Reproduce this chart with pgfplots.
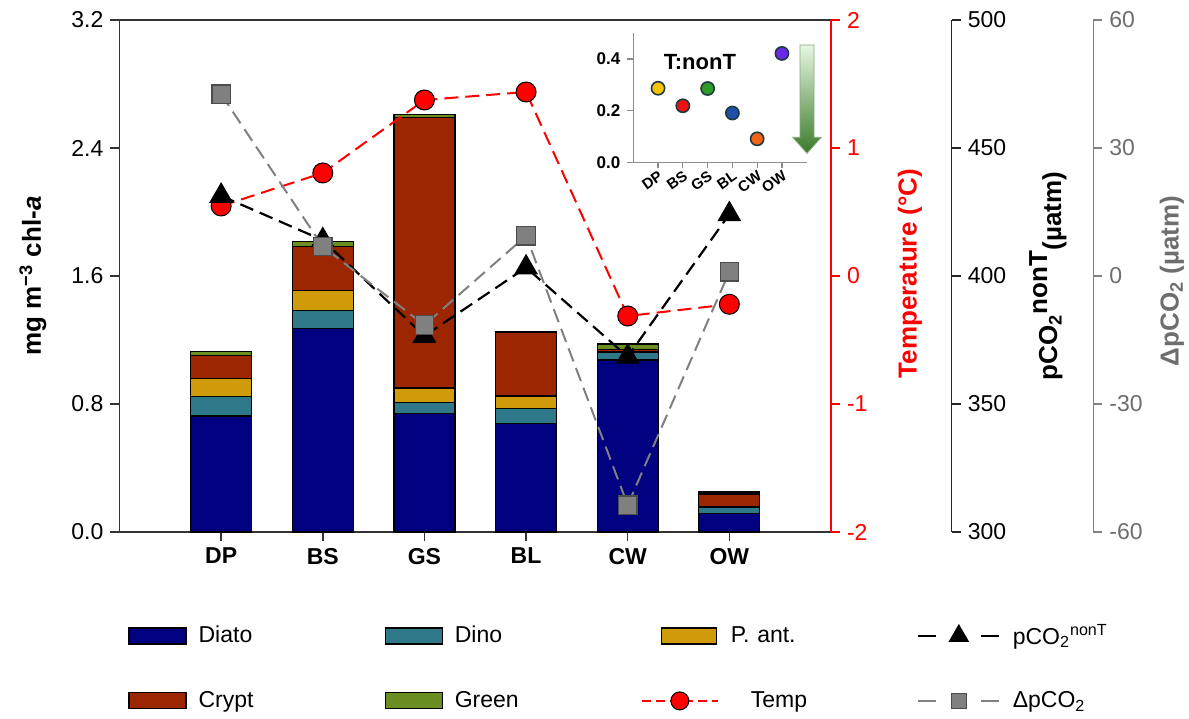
\documentclass[border=0pt]{standalone}
\usepackage{fontspec}
\setmainfont{Liberation Sans}
\usepackage{pgfplots}
\pgfplotsset{compat=1.18}
\usetikzlibrary{shadings}

\definecolor{cDiato}{HTML}{000080}
\definecolor{cDino}{HTML}{2E788A}
\definecolor{cPant}{HTML}{CF9B0A}
\definecolor{cCrypt}{HTML}{9C2600}
\definecolor{cGreen}{HTML}{6B8E23}
\definecolor{cGray}{HTML}{808080}
\definecolor{cGrayTxt}{HTML}{6E6E6E}
\definecolor{cRed}{HTML}{FF0000}
\definecolor{iDP}{HTML}{F5C400}
\definecolor{iBS}{HTML}{F01010}
\definecolor{iGS}{HTML}{2E9A28}
\definecolor{iBL}{HTML}{1F50A8}
\definecolor{iCW}{HTML}{F06418}
\definecolor{iOW}{HTML}{6A28E8}
\definecolor{iEdge}{HTML}{1F3A3F}
\definecolor{arrTop}{HTML}{E6F7E0}
\definecolor{arrMid}{HTML}{96D67F}
\definecolor{arrBot}{HTML}{3A7A2A}
\definecolor{arrEdge}{HTML}{8AA880}

\newcommand{\tickfont}{\fontsize{11.5}{13}\selectfont}
\newcommand{\labfont}{\fontsize{13}{15}\selectfont\bfseries}

\pgfplotsset{
  base/.style={scale only axis, width=355.75pt, height=256pt, xmin=-1, xmax=6,
    /pgf/number format/assume math mode=true,
    tick align=outside, major tick length=4.5pt,
    tick label style={font=\tickfont}},
  swatch/.style={legend image code/.code={\draw[##1, draw=black, line width=0.6pt] (0pt,-4pt) rectangle (28.5pt,4pt);}},
  swatchC/.style={legend image code/.code={\draw[##1, draw=black, line width=0.6pt] (10pt,-4pt) rectangle (37.5pt,4pt);}},
  lineA/.style={legend image code/.code={\draw[##1, mark repeat=2, mark phase=2] plot coordinates {(0pt,0pt) (20.5pt,0pt) (41pt,0pt)};}},
  lineB/.style={legend image code/.code={\draw[##1, mark repeat=2, mark phase=2] plot coordinates {(0pt,0pt) (19pt,0pt) (38pt,0pt)};}},
}

\begin{document}
\begin{tikzpicture}

% ---------------- main stacked bars ----------------
\begin{axis}[base, ymin=0, ymax=3.2, ybar stacked, bar width=0.6,
  axis line style={black!80, line width=0.75pt},
  tick style={black!80, line width=0.75pt},
  xtick={0,...,5}, xticklabels={DP,BS,GS,BL,CW,OW},
  xticklabel style={font=\fontsize{11.5}{13}\selectfont\bfseries},
  xtick pos=left, ytick pos=left,
  ytick={0,0.8,1.6,2.4,3.2},
  yticklabel style={/pgf/number format/fixed, /pgf/number format/fixed zerofill, /pgf/number format/precision=1},
  ylabel={mg m\textsuperscript{−3} chl-\textit{a}},
  ylabel style={font=\labfont, at={(axis description cs:-0.1216,0.5)}, anchor=center},
]
\addplot[fill=cDiato, draw=black, line width=0.6pt] coordinates {(0,0.725) (1,1.27) (2,0.74) (3,0.68) (4,1.075) (5,0.117)};
\addplot[fill=cDino, draw=black, line width=0.6pt] coordinates {(0,0.12) (1,0.115) (2,0.07) (3,0.09) (4,0.05) (5,0.037)};
\addplot[fill=cPant, draw=black, line width=0.6pt] coordinates {(0,0.115) (1,0.125) (2,0.09) (3,0.08) (4,0.005) (5,0.003)};
\addplot[fill=cCrypt, draw=black, line width=0.6pt] coordinates {(0,0.145) (1,0.275) (2,1.69) (3,0.395) (4,0.012) (5,0.08)};
\addplot[fill=cGreen, draw=black, line width=0.6pt] coordinates {(0,0.023) (1,0.03) (2,0.02) (3,0.006) (4,0.033) (5,0.013)};
\end{axis}

% ---------------- temperature ----------------
\begin{axis}[base, ymin=-2, ymax=2, axis x line=none, axis y line*=right,
  ytick={-2,-1,0,1,2},
  y axis line style={cRed, line width=0.75pt},
  ytick style={cRed, line width=0.75pt},
  yticklabel style={text=cRed},
  ylabel={Temperature (°C)},
  ylabel style={font=\labfont, text=cRed, at={(axis description cs:1.111,0.505)}, anchor=center},
  legend columns=4, legend cell align=left,
  legend style={at={(axis description cs:0.012,-0.18)}, anchor=north west, draw=none, fill=none,
    inner sep=0pt, font=\fontsize{11.5}{13}\selectfont, row sep=22pt, column sep=0pt,
    /tikz/every odd column/.append style={column sep=6pt},
    nodes={text width=93pt, inner sep=0pt, text=black}},
]
\addlegendimage{swatch, fill=cDiato}
\addlegendimage{swatch, fill=cDino}
\addlegendimage{swatchC, fill=cPant}
\addlegendimage{lineA, black, line width=1pt, dash pattern=on 9pt off 22.5pt, mark=triangle*, mark size=5pt, mark options={solid, fill=black}}
\addlegendimage{swatch, fill=cCrypt}
\addlegendimage{swatch, fill=cGreen}
\addlegendimage{lineB, cRed, line width=1pt, dash pattern=on 4.5pt off 2.5pt, mark=*, mark size=4.5pt, mark options={solid, fill=cRed, draw=black, line width=0.5pt}}
\addlegendimage{lineA, cGray, line width=1pt, dash pattern=on 9pt off 22.5pt, mark=square*, mark size=3.8pt, mark options={solid, fill=cGray, draw=black!70, line width=0.5pt}}
\legend{Diato, Dino, P. ant., pCO\textsubscript{2}\textsuperscript{nonT}, Crypt, Green, \hspace*{10pt}Temp, ΔpCO\textsubscript{2}}
\addplot[cRed, line width=1pt, dash pattern=on 7pt off 3.5pt, mark=*, mark size=5pt,
  mark options={solid, fill=cRed, draw=black, line width=0.5pt}]
  coordinates {(0,0.547) (1,0.805) (2,1.375) (3,1.4375) (4,-0.3125) (5,-0.221)};
\end{axis}

% ---------------- pCO2 nonT ----------------
\begin{axis}[base, ymin=300, ymax=500, axis x line=none, axis y line*=right, axis y line shift=60.35pt,
  ytick={300,350,...,500},
  y axis line style={black!85, line width=0.75pt},
  ytick style={black!85, line width=0.75pt},
  ylabel={pCO\textsubscript{2}\raisebox{5pt}{nonT}\raisebox{-2pt}{(µatm)}},
  ylabel style={font=\labfont, at={(axis description cs:1.305,0.5)}, anchor=center},
]
\addplot[black, line width=1.1pt, dash pattern=on 7pt off 3.5pt, mark=triangle*, mark size=5.8pt,
  mark options={solid, fill=black}]
  coordinates {(0,431.3) (1,414) (2,376.6) (3,403.3) (4,368.5) (5,424.1)};
\end{axis}

% ---------------- delta pCO2 ----------------
\begin{axis}[base, ymin=-60, ymax=60, axis x line=none, axis y line*=right, axis y line shift=131.15pt,
  ytick={-60,-30,0,30,60},
  y axis line style={cGray, line width=0.75pt},
  ytick style={cGray, line width=0.75pt},
  yticklabel style={text=cGrayTxt},
  ylabel={ΔpCO\textsubscript{2} (µatm)},
  ylabel style={font=\labfont, text=cGrayTxt, at={(axis description cs:1.479,0.49)}, anchor=center},
]
\addplot[cGray, line width=1pt, dash pattern=on 7pt off 3.5pt, mark=square*, mark size=4.6pt,
  mark options={solid, fill=cGray, draw=black!70, line width=0.6pt}]
  coordinates {(0,42.6) (1,6.9) (2,-11.5) (3,9.4) (4,-53.7) (5,1.0)};
\end{axis}

% ---------------- inset ----------------
\begin{axis}[at={(256.9pt,184.85pt)}, anchor=south west, scale only axis, width=86.7pt, height=64.5pt,
  xmin=-1, xmax=6, ymin=0, ymax=0.5,
  axis lines*=left, clip=false,
  axis line style={black!45, line width=0.6pt},
  tick align=outside, major tick length=3pt, tick style={black!45, line width=0.6pt},
  xtick={0,...,5}, xticklabels={DP,BS,GS,BL,CW,OW},
  ytick={0,0.2,0.4},
  /pgf/number format/assume math mode=true,
  yticklabel style={font=\fontsize{8.5}{10}\selectfont\bfseries, /pgf/number format/fixed, /pgf/number format/fixed zerofill, /pgf/number format/precision=1},
  xticklabel style={font=\fontsize{7.5}{9}\selectfont\bfseries, rotate=35, anchor=north east, inner sep=0.5pt},
]
\addplot[only marks, mark=*, mark size=3.3pt, mark options={fill=iDP, draw=iEdge, line width=0.8pt}] coordinates {(0,0.287)};
\addplot[only marks, mark=*, mark size=3.3pt, mark options={fill=iBS, draw=iEdge, line width=0.8pt}] coordinates {(1,0.219)};
\addplot[only marks, mark=*, mark size=3.3pt, mark options={fill=iGS, draw=iEdge, line width=0.8pt}] coordinates {(2,0.286)};
\addplot[only marks, mark=*, mark size=3.3pt, mark options={fill=iBL, draw=iEdge, line width=0.8pt}] coordinates {(3,0.191)};
\addplot[only marks, mark=*, mark size=3.3pt, mark options={fill=iCW, draw=iEdge, line width=0.8pt}] coordinates {(4,0.091)};
\addplot[only marks, mark=*, mark size=3.3pt, mark options={fill=iOW, draw=iEdge, line width=0.8pt}] coordinates {(5,0.422)};
\node[font=\fontsize{11}{13}\selectfont\bfseries] at (axis cs:1.69,0.39) {T:nonT};
\end{axis}

% gradient arrow
\shadedraw[top color=arrTop, middle color=arrMid, bottom color=arrBot, draw=arrEdge, line width=0.4pt]
  (340.25pt,243.5pt) -- (347.25pt,243.5pt) -- (347.25pt,197.35pt) -- (350.9pt,197.35pt)
  -- (343.75pt,189.35pt) -- (336.6pt,197.35pt) -- (340.25pt,197.35pt) -- cycle;

\pgfresetboundingbox
\path[use as bounding box] (-59.75pt,-93pt) rectangle (534.75pt,266pt);
\end{tikzpicture}
\end{document}
